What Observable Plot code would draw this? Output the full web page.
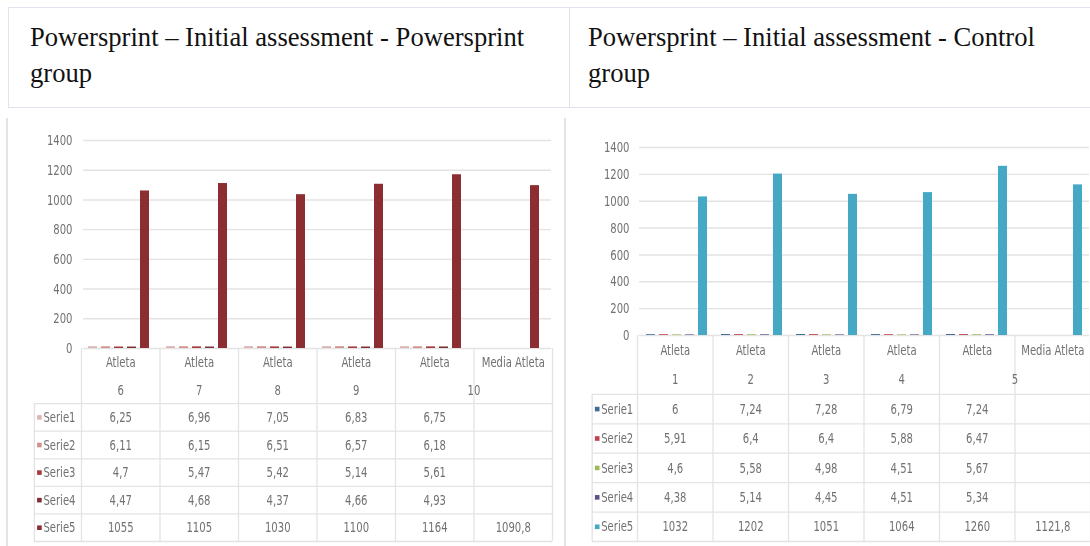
<!DOCTYPE html>
<html>
<head>
<meta charset="utf-8">
<script src="https://cdn.jsdelivr.net/npm/d3@7"></script>
<script src="https://cdn.jsdelivr.net/npm/@observablehq/plot@0.6"></script>
<style>
  body { margin: 0; background: #fff; width: 1090px; height: 546px; overflow: hidden; position: relative; }
  .rule { position: absolute; background: #e3e0ef; }
  .edge { position: absolute; background: #e4e4e4; }
  .hdr { position: absolute; top: 19px; font-family: "Liberation Serif", "Times New Roman", serif;
         font-size: 26.6px; line-height: 36px; color: #111; white-space: nowrap; }
  .panel { position: absolute; filter: blur(0.35px); }
  .panel svg { display: block; }
  .panel text { font-stretch: condensed; }
</style>
</head>
<body>
<!-- header row of the comparison table -->
<div class="rule" style="left:8px;top:7px;width:1082px;height:1px"></div>
<div class="rule" style="left:8px;top:107px;width:1082px;height:1px"></div>
<div class="rule" style="left:8px;top:7px;width:1px;height:101px"></div>
<div class="rule" style="left:569px;top:7px;width:1px;height:101px"></div>
<div class="hdr" style="left:30px">Powersprint – Initial assessment - Powersprint<br>group</div>
<div class="hdr" style="left:588px">Powersprint – Initial assessment - Control<br>group</div>
<!-- frames of the two chart images -->
<div class="edge" style="left:6px;top:118px;width:2px;height:428px"></div>
<div class="edge" style="left:564px;top:118px;width:2px;height:428px"></div>

<div id="left"></div>
<div id="right"></div>

<script>
// Series shared by both groups
const seriesNames = ["Serie1", "Serie2", "Serie3", "Serie4", "Serie5"];

// Powersprint group (athletes 6–10 and their mean)
const psCategories = ["Atleta 6", "Atleta 7", "Atleta 8", "Atleta 9", "Atleta 10", "Media Atleta"];
const psSerie1 = [6.25, 6.96, 7.05, 6.83, 6.75, null];
const psSerie2 = [6.11, 6.15, 6.51, 6.57, 6.18, null];
const psSerie3 = [4.7, 5.47, 5.42, 5.14, 5.61, null];
const psSerie4 = [4.47, 4.68, 4.37, 4.66, 4.93, null];
const psSerie5 = [1055, 1105, 1030, 1100, 1164, 1090.8];
const psColors = ["#dcb4b4", "#d3918c", "#a8383c", "#7f2d36", "#8c2d31"];

// Control group (athletes 1–5 and their mean)
const ctCategories = ["Atleta 1", "Atleta 2", "Atleta 3", "Atleta 4", "Atleta 5", "Media Atleta"];
const ctSerie1 = [6, 7.24, 7.28, 6.79, 7.24, null];
const ctSerie2 = [5.91, 6.4, 6.4, 5.88, 6.47, null];
const ctSerie3 = [4.6, 5.58, 4.98, 4.51, 5.67, null];
const ctSerie4 = [4.38, 5.14, 4.45, 4.51, 5.34, null];
const ctSerie5 = [1032, 1202, 1051, 1064, 1260, 1121.8];
const ctColors = ["#3e6c97", "#c0404d", "#9bbb59", "#604f86", "#45a8c5"];

const yTicks = [0, 200, 400, 600, 800, 1000, 1200, 1400];

const fontFamily = '"Liberation Sans Narrow", "DejaVu Sans Condensed", "DejaVu Sans", sans-serif';
const textColor = "#717171";
const lineColor = "#e3e3e3";
const labelColumn = -0.6; // left edge of the series-name column, in column units
const glyphScale = "scale(0.86,1.12)"; // narrow, tall lettering of the chart labels

const fmt = v => String(v).replace(".", ",");

function narrowText(svg) {
  svg.querySelectorAll("text").forEach(t => {
    const tr = t.getAttribute("transform") || "";
    t.setAttribute("transform", `${tr} ${glyphScale}`.trim());
  });
  return svg;
}

function drawPanel(host, p) {
  const n = p.categories.length;
  const bars = [];
  const cells = [];
  seriesNames.forEach((s, r) => p.values[r].forEach((v, i) => {
    if (v == null) return;
    bars.push({cat: p.categories[i], serie: s, value: v});
    cells.push({col: i, row: r, value: v});
  }));
  const top = d => d.startsWith("Atleta ") ? "Atleta" : d;
  const num = d => d.startsWith("Atleta ") ? d.slice(7) : "";
  const lastNumbered = p.categories.filter(d => num(d) !== "").length - 1;
  const style = {fontFamily, fontSize: "13px", color: textColor, background: "none", overflow: "visible"};
  const color = {domain: seriesNames, range: p.colors};

  // clustered columns
  const chart = Plot.plot({
    width: p.width, height: p.chartHeight,
    marginLeft: p.marginLeft, marginRight: p.marginRight, marginTop: 20, marginBottom: 0,
    style,
    fx: {domain: p.categories, padding: 0, axis: null},
    x: {domain: seriesNames, paddingInner: 0.345, paddingOuter: 0.527, align: p.align, axis: null},
    y: {domain: [0, 1400], axis: null},
    color,
    marks: [
      Plot.ruleY(yTicks, {stroke: lineColor, strokeWidth: 1.4}),
      Plot.axisY(yTicks, {tickSize: 0, tickPadding: p.tickPadding, label: null, fill: textColor, tickFormat: d => String(d)}),
      Plot.barY(bars, {fx: "cat", x: "serie", y: "value", fill: "serie", insetTop: p.insetTop})
    ]
  });

  // data table under the columns: two header lines, then one row per series
  const table = Plot.plot({
    width: p.width, height: p.tableHeight,
    marginLeft: p.marginLeft, marginRight: p.marginRight, marginTop: 0, marginBottom: 1,
    style,
    x: {domain: [0, n], axis: null},
    y: {domain: [0, seriesNames.length + 2], reverse: true, axis: null},
    color,
    marks: [
      Plot.ruleY(d3.range(2, seriesNames.length + 3), {x1: labelColumn, x2: n, stroke: lineColor, strokeWidth: 1.3}),
      Plot.ruleX(d3.range(0, n + 1), {y1: 0, y2: seriesNames.length + 2, stroke: lineColor, strokeWidth: 1.3}),
      Plot.ruleX([labelColumn], {y1: 2, y2: seriesNames.length + 2, stroke: lineColor, strokeWidth: 1.3}),
      Plot.text(p.categories, {x: (d, i) => i + 0.5, y: () => 0.5, text: top}),
      Plot.text(p.categories, {x: (d, i) => i === lastNumbered ? i + 1 : i + 0.5, y: () => 1.5, text: num}),
      Plot.text(cells, {x: d => d.col + 0.5, y: d => d.row + 2.5, text: d => fmt(d.value)}),
      Plot.dot(seriesNames, {x: () => labelColumn, y: (d, i) => i + 2.5, fill: d => d, symbol: "square", r: 2.6, dx: 5}),
      Plot.text(seriesNames, {x: () => labelColumn, y: (d, i) => i + 2.5, text: d => d, textAnchor: "start", dx: 9})
    ]
  });

  host.className = "panel";
  Object.assign(host.style, {left: p.left + "px", top: p.top + "px", width: p.width + "px"});
  host.append(narrowText(chart), narrowText(table));
}

drawPanel(document.getElementById("left"), {
  categories: psCategories,
  values: [psSerie1, psSerie2, psSerie3, psSerie4, psSerie5],
  colors: psColors,
  left: 0, top: 120, width: 560, marginLeft: 81, marginRight: 8,
  chartHeight: 228, tableHeight: 194, tickPadding: 11, align: 0.28, insetTop: -0.8
});

drawPanel(document.getElementById("right"), {
  categories: ctCategories,
  values: [ctSerie1, ctSerie2, ctSerie3, ctSerie4, ctSerie5],
  colors: ctColors,
  left: 566, top: 127, width: 524, marginLeft: 71, marginRight: 0,
  chartHeight: 208, tableHeight: 207, tickPadding: 10, align: 0.45, insetTop: 0
});
</script>
</body>
</html>
